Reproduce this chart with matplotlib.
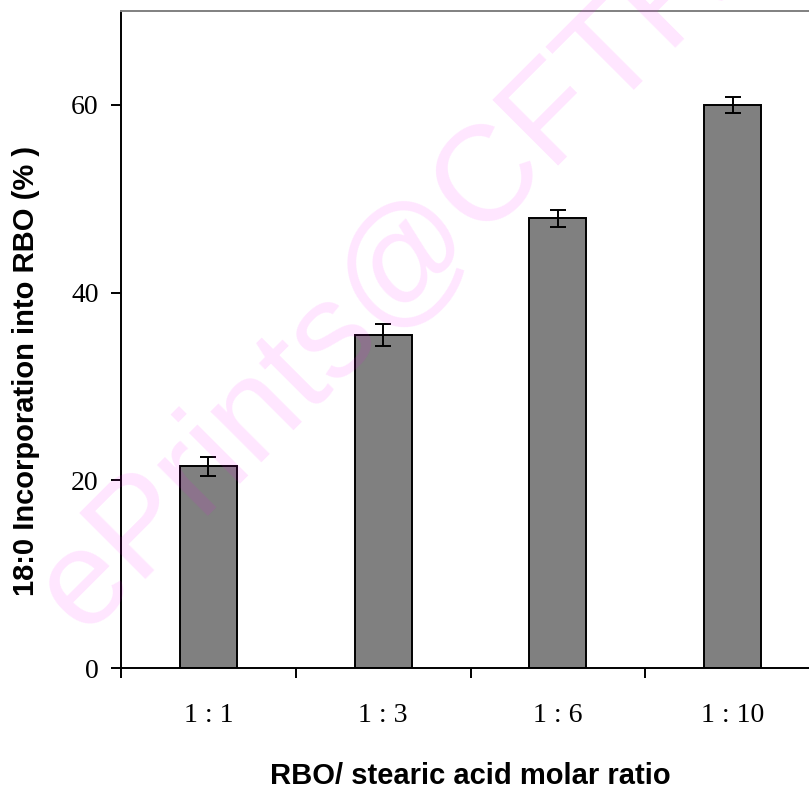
import matplotlib
matplotlib.use("Agg")
import matplotlib.pyplot as plt
import numpy as np

categories = ["1 : 1", "1 : 3", "1 : 6", "1 : 10"]
values = [21.5, 35.5, 47.9, 60.0]
errors = [1.0, 1.15, 0.95, 0.85]
yticks = [0, 20, 40, 60]

fig = plt.figure(figsize=(8.09, 7.93), dpi=100)
ax = fig.add_axes([121/809, 125/793, 699/809, 657/793])

x = np.arange(len(categories))
ax.bar(x, values, width=0.325, color="#808080", edgecolor="black", linewidth=1.4, zorder=2)
ax.errorbar(x, values, yerr=errors, fmt="none", ecolor="black", elinewidth=1.4,
            capsize=5.6, capthick=1.4, zorder=3)

ax.set_xlim(-0.5, len(categories) - 0.5)
ax.set_ylim(0, 70)

ax.set_yticks(yticks)
ax.set_yticklabels([str(v) for v in yticks], family="Liberation Serif", fontsize=20)
ax.tick_params(axis="y", direction="out", length=7.2, width=1.4, pad=9)

ax.set_xticks(x)
ax.set_xticklabels(categories, family="Liberation Serif", fontsize=20)
ax.tick_params(axis="x", which="major", length=0, pad=25)
ax.set_xticks(np.arange(len(categories) + 1) - 0.5, minor=True)
ax.tick_params(axis="x", which="minor", direction="out", length=7.2, width=1.4)

for s in ["left", "bottom"]:
    ax.spines[s].set_linewidth(1.4)
    ax.spines[s].set_color("black")
ax.spines["top"].set_color("#808080")
ax.spines["top"].set_linewidth(1.4)
ax.spines["right"].set_visible(False)

ax.set_xlabel("RBO/ stearic acid molar ratio", family="Liberation Sans", fontweight="bold",
              fontsize=21, va="baseline")
ax.xaxis.set_label_coords(0.5, -0.176)
ax.set_ylabel("18:0 Incorporation into RBO (% )", family="Liberation Sans", fontweight="bold",
              fontsize=21)
ax.yaxis.set_label_coords(-0.116, 0.452)

fig.text(0.491, 0.660, "ePrints@CFTRI", family="Liberation Sans", fontsize=98,
         color="#ff00ff", alpha=0.1, rotation=45, ha="center", va="center",
         rotation_mode="anchor", zorder=10)

fig.savefig("out.png", dpi=100, facecolor="white")
